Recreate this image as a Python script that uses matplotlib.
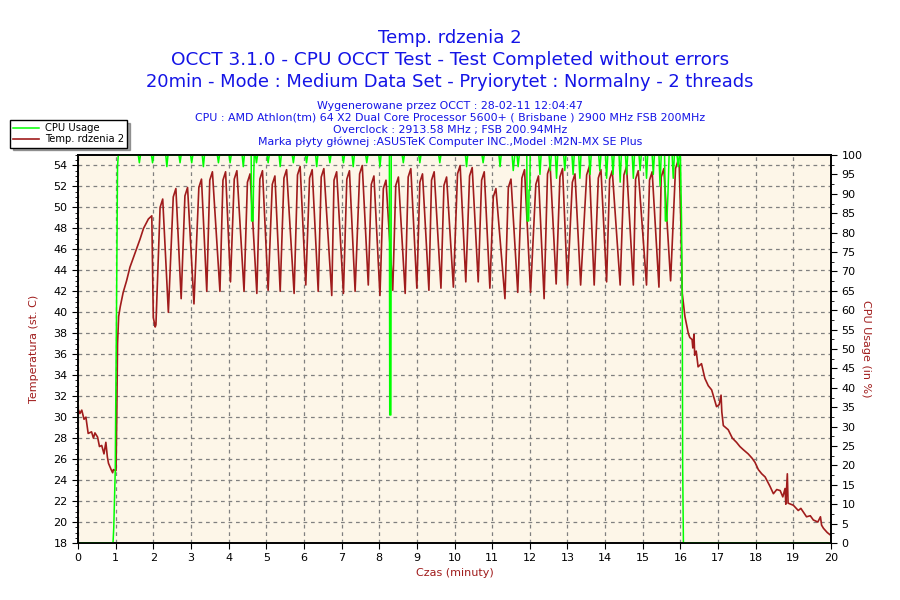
import matplotlib
matplotlib.use("Agg")
import matplotlib.pyplot as plt
from matplotlib.ticker import MultipleLocator, AutoMinorLocator

# temperatura rdzenia 2 (minuty, st. C) - rozgrzewanie
warm_t = [0.00, 0.05, 0.10, 0.16, 0.21, 0.27, 0.36, 0.41, 0.45, 0.52, 0.57, 0.63, 0.69, 0.74, 0.78,
          0.81, 0.88, 0.92, 0.94, 1.01, 1.03, 1.05, 1.08, 1.12, 1.20, 1.29, 1.38, 1.51, 1.65, 1.74,
          1.87, 1.96, 2.00, 2.05, 2.07]
warm_v = [30.8, 30.35, 30.67, 29.8, 30.0, 28.45, 28.6, 28.0, 28.5, 28.1, 27.2, 27.3, 26.5, 27.6, 26.2,
          25.6, 25.0, 24.7, 25.0, 24.9, 30.3, 37.0, 39.6, 40.5, 41.9, 43.0, 44.3, 45.6, 47.0, 48.0,
          48.9, 49.2, 39.5, 38.6, 38.8]

# test OCCT - cykle
cyc_t = [2.18, 2.25, 2.40, 2.53, 2.60, 2.74, 2.84, 2.91, 3.08, 3.21, 3.28, 3.42, 3.50, 3.57, 3.77,
         3.85, 3.92, 4.05, 4.15, 4.22, 4.41, 4.50, 4.57, 4.75, 4.83, 4.90, 5.05, 5.16, 5.23, 5.37,
         5.47, 5.54, 5.74, 5.83, 5.90, 6.05, 6.15, 6.22, 6.38, 6.46, 6.53, 6.74, 6.80, 6.87, 7.05,
         7.14, 7.21, 7.36, 7.48, 7.55, 7.71, 7.79, 7.86, 8.02, 8.11, 8.18, 8.36, 8.44, 8.51, 8.69,
         8.77, 8.84, 9.00, 9.08, 9.15, 9.32, 9.39, 9.46, 9.64, 9.72, 9.79, 9.97, 10.08, 10.15, 10.30,
         10.40, 10.47, 10.63, 10.72, 10.79, 10.94, 11.03, 11.10, 11.34, 11.43, 11.50, 11.68, 11.79,
         11.86, 12.02, 12.16, 12.23, 12.38, 12.47, 12.54, 12.70, 12.80, 12.87, 13.00, 13.13, 13.20,
         13.35, 13.51, 13.58, 13.71, 13.82, 13.89, 14.04, 14.12, 14.19, 14.40, 14.50, 14.57, 14.75,
         14.81, 14.88, 15.10, 15.18, 15.25, 15.43, 15.49, 15.56, 15.74, 15.87, 15.94]
cyc_v = [50.0, 50.8, 40.0, 51.0, 51.8, 41.3, 51.1, 51.9, 40.8, 51.9, 52.7, 42.0, 52.6, 53.4, 42.0,
         52.6, 53.4, 42.9, 52.7, 53.5, 42.0, 52.4, 53.2, 41.8, 52.7, 53.5, 42.1, 52.2, 53.0, 42.0,
         52.8, 53.6, 41.8, 53.1, 53.9, 42.6, 52.8, 53.6, 42.0, 52.9, 53.7, 41.6, 52.6, 53.4, 41.8,
         52.7, 53.5, 42.0, 53.2, 54.0, 42.6, 52.2, 53.0, 41.6, 51.8, 52.6, 42.1, 52.1, 52.9, 41.8,
         52.9, 53.7, 42.3, 52.4, 53.2, 42.1, 52.6, 53.4, 42.3, 52.1, 52.9, 42.4, 53.2, 54.0, 42.9,
         53.0, 53.8, 42.9, 52.6, 53.4, 42.3, 51.0, 51.8, 41.3, 51.9, 52.7, 41.9, 52.8,
         53.6, 41.9, 52.2, 53.0, 41.3, 53.2, 54.0, 42.7, 52.9, 53.7, 42.6, 52.4, 53.2,
         42.6, 53.1, 53.9, 42.6, 52.8, 53.6, 42.9, 52.7, 53.5, 42.6, 53.1, 53.9, 42.6,
         52.7, 53.5, 42.6, 52.6, 53.4, 42.4, 52.9, 53.7, 43.0, 53.7, 54.5]

# chlodzenie
cool_t = [15.97, 16.01, 16.05, 16.12, 16.21, 16.25, 16.31, 16.33, 16.36, 16.38,
          16.42, 16.47, 16.56, 16.65, 16.74, 16.83, 16.96, 17.03, 17.08, 17.10, 17.14, 17.27, 17.38,
          17.49, 17.58, 17.67, 17.80, 17.90, 17.98, 18.07, 18.16, 18.25, 18.38, 18.47, 18.56, 18.65,
          18.72, 18.78, 18.80, 18.84, 18.86, 19.00, 19.13, 19.20, 19.35, 19.45, 19.53, 19.65, 19.72,
          19.75, 19.80, 19.90, 19.97]
cool_v = [53.8, 48.8, 41.8, 39.6, 38.0, 37.6, 37.4, 36.6, 37.9, 35.9,
          36.3, 34.8, 35.1, 33.7, 33.0, 32.6, 31.0, 31.2, 32.1, 30.5, 29.2, 28.8, 28.0,
          27.6, 27.2, 26.9, 26.5, 26.1, 25.7, 25.0, 24.6, 24.3, 23.4, 22.7, 23.1, 23.0,
          22.4, 23.2, 21.7, 24.6, 21.8, 21.6, 21.1, 21.3, 20.5, 20.6, 20.2, 20.0, 20.5,
          19.7, 19.4, 19.0, 18.8]

# obciazenie CPU (minuty, %)
cpu_t = [0.00, 0.93, 0.95, 0.97, 0.99, 1.00, 1.02, 1.05, 1.07,
         1.60, 1.63, 1.66, 1.95, 1.98, 2.01, 2.33, 2.36, 2.39, 2.68, 2.71, 2.74, 2.99, 3.02, 3.05,
         3.30, 3.33, 3.36, 3.70, 3.73, 3.76, 4.01, 4.04, 4.07, 4.36, 4.39, 4.42,
         4.60, 4.61, 4.65, 4.66, 4.68, 4.71, 4.74, 4.77, 5.02, 5.05, 5.08, 5.34, 5.37, 5.40,
         5.69, 5.72, 5.75, 6.04, 6.07, 6.10, 6.31, 6.34, 6.37, 6.66, 6.69, 6.72, 7.02, 7.05, 7.08,
         7.28, 7.31, 7.34, 7.64, 7.67, 7.70, 7.99, 8.02, 8.05, 8.27, 8.28, 8.31, 8.32,
         8.61, 8.64, 8.67, 9.05, 9.08, 9.11, 9.58, 9.61, 9.64, 10.29, 10.32, 10.35,
         10.73, 10.76, 10.79, 11.18, 11.21, 11.24, 11.53, 11.56, 11.60, 11.66, 11.69, 11.72,
         11.92, 11.93, 11.97, 11.98, 12.00, 12.01, 12.24, 12.27, 12.30, 12.51, 12.54, 12.57,
         12.68, 12.71, 12.74, 12.90, 12.93, 12.96, 13.12, 13.15, 13.18, 13.30, 13.33, 13.36,
         13.57, 13.60, 13.63, 13.83, 13.86, 13.89, 14.01, 14.04, 14.07, 14.18, 14.21, 14.24,
         14.37, 14.40, 14.43, 14.54, 14.57, 14.60, 14.72, 14.75, 14.78, 14.90, 14.93, 14.96,
         15.07, 15.10, 15.13, 15.25, 15.28, 15.31, 15.43, 15.46, 15.49, 15.58, 15.60, 15.64,
         15.67, 15.70, 15.78, 15.81, 15.84, 15.91, 15.94, 15.97, 16.00, 16.02, 16.03, 16.04,
         16.05, 16.06, 16.08, 20.00]
cpu_v = [0, 0, 4, 12, 19, 33, 56, 97, 100,
         100, 98, 100, 100, 98, 100, 100, 97, 100, 100, 98, 100, 100, 98, 100,
         100, 97, 100, 100, 98, 100, 100, 98, 100, 100, 97, 100,
         100, 83, 83, 91, 100, 100, 98, 100, 100, 98, 100, 100, 97, 100,
         100, 98, 100, 100, 98, 100, 100, 97, 100, 100, 98, 100, 100, 98, 100,
         100, 97, 100, 100, 98, 100, 100, 97, 100, 100, 33, 33, 100,
         100, 98, 100, 100, 98, 100, 100, 98, 100, 100, 97, 100,
         100, 98, 100, 100, 97, 100, 100, 96, 100, 100, 97, 100,
         100, 83, 83, 91, 91, 100, 100, 95, 100, 100, 96, 100,
         100, 94, 100, 100, 96, 100, 100, 95, 100, 100, 94, 100,
         100, 95, 100, 100, 96, 100, 100, 94, 100, 100, 95, 100,
         100, 93, 100, 100, 95, 100, 100, 94, 100, 100, 96, 100,
         100, 94, 100, 100, 95, 100, 100, 92, 100, 100, 83, 83,
         90, 100, 100, 94, 100, 100, 97, 100, 100, 88, 83, 70,
         61, 20, 0, 0]

RED = '#a01c1c'
GREEN = '#00ff00'
BLUE = '#1414e6'

temp_t = warm_t + cyc_t + cool_t
temp_v = warm_v + cyc_v + cool_v

fig = plt.figure(figsize=(9, 6), dpi=100)
ax = fig.add_axes([78 / 900, 57 / 600, 753 / 900, 388 / 600])
ax.set_facecolor('#fdf6e8')
ax2 = ax.twinx()

ax.plot(temp_t, temp_v, color=RED, lw=1.2, label='Temp. rdzenia 2')
ax2.plot(cpu_t, cpu_v, color=GREEN, lw=1.1, label='CPU Usage')

ax.set_xlim(0, 20)
ax.set_ylim(18, 55)
ax2.set_ylim(0, 100)
ax.xaxis.set_major_locator(MultipleLocator(1))
ax.yaxis.set_major_locator(MultipleLocator(2))
ax.yaxis.set_minor_locator(AutoMinorLocator(4))
ax2.yaxis.set_major_locator(MultipleLocator(5))
ax2.yaxis.set_minor_locator(AutoMinorLocator(2))

ax.grid(True, which='major', color='#808080', ls=(0, (3, 3)), lw=0.9)
for a in (ax, ax2):
    a.tick_params(labelsize=8, length=4, width=0.8, colors='black')
    a.tick_params(which='minor', length=2, width=0.6)
    for s in a.spines.values():
        s.set_linewidth(1.2)
        s.set_zorder(5)

ax.set_xlabel('Czas (minuty)', color=RED, fontsize=8, labelpad=3)
ax.set_ylabel('Temperatura (st. C)', color=RED, fontsize=8, labelpad=10)
ax2.set_ylabel('CPU Usage (in %)', color=RED, fontsize=8, rotation=270, labelpad=6)

fig.text(0.5, 1 - 38 / 600, 'Temp. rdzenia 2', ha='center', va='center', color=BLUE, fontsize=13)
fig.text(0.5, 1 - 60 / 600, 'OCCT 3.1.0 - CPU OCCT Test - Test Completed without errors',
         ha='center', va='center', color=BLUE, fontsize=13.3)
fig.text(0.5, 1 - 82 / 600, '20min - Mode : Medium Data Set - Pryiorytet : Normalny - 2 threads',
         ha='center', va='center', color=BLUE, fontsize=12.9)
info = ['Wygenerowane przez OCCT : 28-02-11 12:04:47',
        'CPU : AMD Athlon(tm) 64 X2 Dual Core Processor 5600+ ( Brisbane ) 2900 MHz FSB 200MHz',
        'Overclock : 2913.58 MHz ; FSB 200.94MHz',
        'Marka płyty głównej :ASUSTeK Computer INC.,Model :M2N-MX SE Plus']
for i, line in enumerate(info):
    fig.text(0.5, 1 - (106 + 12 * i) / 600, line, ha='center', va='center', color=BLUE, fontsize=7.9)

h1, l1 = ax2.get_legend_handles_labels()
h2, l2 = ax.get_legend_handles_labels()
leg = fig.legend(h1 + h2, l1 + l2, loc='upper left', bbox_to_anchor=(10 / 900, 1 - 120 / 600),
                 fontsize=7.2, frameon=True, fancybox=False, shadow=True, framealpha=1,
                 edgecolor='black', handlelength=2.6, borderpad=0.3, labelspacing=0.15,
                 handletextpad=0.6, borderaxespad=0)
leg.get_frame().set_linewidth(1.0)

fig.savefig('out.png', dpi=100, facecolor='white')
